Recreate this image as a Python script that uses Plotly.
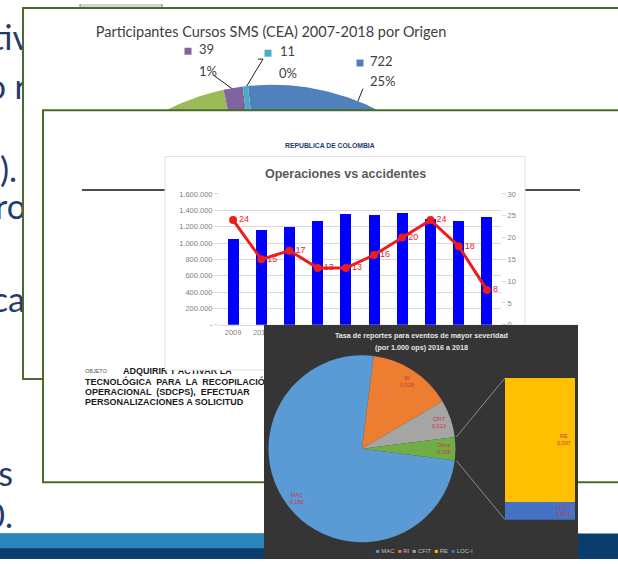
import numpy as np
import plotly.graph_objects as go

W, H = 618, 564

# ---------------- data ----------------
years = ["2009", "2010", "2011", "2012", "2013", "2014", "2015", "2016", "2017", "2018"]
operaciones = [1055000, 1155000, 1190000, 1270000, 1350000, 1345000, 1365000, 1290000, 1265000, 1315000]
accidentes = [24, 15, 17, 13, 13, 16, 20, 24, 18, 8]
ops_ticks = [0, 200000, 400000, 600000, 800000, 1000000, 1200000, 1400000, 1600000]
acc_ticks = [0, 5, 10, 15, 20, 25, 30]

sms_values = [722, 1046, 1070, 39, 11]
sms_colors = ["#4F81BD", "#C0504D", "#9BBB59", "#8064A2", "#4BACC6"]

sev_labels = ["MAC", "RI", "CFIT", "Otros"]
sev_values = [0.150, 0.029, 0.013, 0.008]
sev_colors = ["#5B9BD5", "#ED7D31", "#A5A5A5", "#70AD47"]

otros_labels = ["LOC-I", "RE"]
otros_values = [0.001, 0.007]
otros_colors = ["#4472C4", "#FFC000"]

legend_labels = ["MAC", "RI", "CFIT", "RE", "LOC-I"]
legend_colors = ["#5B9BD5", "#ED7D31", "#A5A5A5", "#FFC000", "#4472C4"]

slide_words = ["activ", "do r", "DC).", "ro", "ca", "s", "0."]
objeto_lines = ["ADQUIRIR Y ACTIVAR LA", "TECNOLÓGICA  PARA  LA  RECOPILACIÓN",
                "OPERACIONAL  (SDCPS),  EFECTUAR", "PERSONALIZACIONES A SOLICITUD"]


def es(v, d=3):
    return f"{v:.{d}f}".replace(".", ",")


def thousands(v):
    return "-" if v == 0 else f"{v:,.0f}".replace(",", ".")


fig = go.Figure()
shapes = []
annots = []


def pix_axes(n, bx0=0, by0=0, bx1=W, by1=H):
    """A hidden subplot whose data units are screen pixels, clipped to a box."""
    xs = "xaxis" if n == 1 else f"xaxis{n}"
    ys = "yaxis" if n == 1 else f"yaxis{n}"
    xr = "x" if n == 1 else f"x{n}"
    yr = "y" if n == 1 else f"y{n}"
    fig.layout[xs] = dict(domain=[bx0 / W, bx1 / W], range=[bx0, bx1], visible=False, anchor=yr,
                          fixedrange=True)
    fig.layout[ys] = dict(domain=[1 - by1 / H, 1 - by0 / H], range=[by1, by0], visible=False, anchor=xr,
                          fixedrange=True)
    fig.add_trace(go.Scatter(x=[bx0], y=[by0], mode="markers", marker=dict(opacity=0),
                             xaxis=xr, yaxis=yr, hoverinfo="skip", showlegend=False))
    return xr, yr


def rect(xr, yr, x0, y0, x1, y1, fill, line=None, lw=0):
    shapes.append(dict(type="rect", xref=xr, yref=yr, x0=x0, y0=y0, x1=x1, y1=y1,
                       fillcolor=fill, line=dict(color=line or fill, width=lw), layer="below"))


def seg(xr, yr, x0, y0, x1, y1, color, lw=1):
    shapes.append(dict(type="line", xref=xr, yref=yr, x0=x0, y0=y0, x1=x1, y1=y1,
                       line=dict(color=color, width=lw), layer="below"))


# ---------- layer A: slide background ----------
xa, ya = pix_axes(1)
rect(xa, ya, 0, 538, W, H, "#0b3c6e")
rect(xa, ya, 0, 538, 300, 553, "#2a86bb")
rect(xa, ya, 80, -2, 162, 4, "#d6d6d6", "#7f7f7f", 1)
slide_x = [30, 27, 17, 26, 25, 13, 13]
slide_y = [38, 88, 172, 210, 304, 481, 524]
fig.add_trace(go.Scatter(x=slide_x, y=slide_y, mode="text", text=slide_words, textposition="middle left",
                         textfont=dict(family="Lato", size=34, color="#1f3b70"),
                         xaxis=xa, yaxis=ya, hoverinfo="skip", showlegend=False))

# ---------- layer B: window 1 (top pie) ----------
xb, yb = pix_axes(2, 21, 2, W, 383)
rect(xb, yb, 23, 4, 700, 381, "white", "#4b6b2e", 2)
cx, cy, rr = 272, 311, 229
tot = sum(sms_values)
ang = -6.0
for v, c in zip(sms_values, sms_colors):
    span = v / tot * 360
    th = np.radians(np.linspace(ang, ang + span, max(int(span * 3), 4)))
    px = [cx] + list(cx + rr * np.sin(th)) + [cx]
    py = [cy] + list(cy - rr * np.cos(th)) + [cy]
    fig.add_trace(go.Scatter(x=px, y=py, mode="lines", fill="toself", fillcolor=c,
                             line=dict(width=0, color=c), xaxis=xb, yaxis=yb,
                             hoverinfo="skip", showlegend=False))
    ang += span
seg(xb, yb, 213, 72, 236, 89, "#202020", 1)
seg(xb, yb, 258, 56, 263, 56, "#202020", 1)
seg(xb, yb, 263, 56, 244, 88, "#202020", 1)
seg(xb, yb, 363, 86, 357, 101, "#202020", 1)
lab_idx = [3, 4, 0]
sq_x = [188, 268, 360]
sq_y = [48, 50, 60]
fig.add_trace(go.Scatter(x=sq_x, y=sq_y, mode="markers",
                         marker=dict(symbol="square", size=7, color=[sms_colors[i] for i in lab_idx]),
                         xaxis=xb, yaxis=yb, hoverinfo="skip", showlegend=False))
val_x = [199, 280, 370]
pct_x = [199, 279, 370]
pct_y = [70, 72, 80]
fig.add_trace(go.Scatter(x=val_x, y=sq_y, mode="text", text=[str(sms_values[i]) for i in lab_idx],
                         textposition="middle right", textfont=dict(family="Lato", size=13, color="#404040"),
                         xaxis=xb, yaxis=yb, hoverinfo="skip", showlegend=False))
fig.add_trace(go.Scatter(x=pct_x, y=pct_y, mode="text",
                         text=[f"{round(sms_values[i] / tot * 100)}%" for i in lab_idx],
                         textposition="middle right", textfont=dict(family="Lato", size=13, color="#404040"),
                         xaxis=xb, yaxis=yb, hoverinfo="skip", showlegend=False))
fig.add_trace(go.Scatter(x=[271], y=[30], mode="text",
                         text=["Participantes Cursos SMS (CEA) 2007-2018 por Origen"],
                         textposition="middle center", textfont=dict(family="Lato", size=14.5, color="#404040"),
                         xaxis=xb, yaxis=yb, hoverinfo="skip", showlegend=False))

# ---------- layer C: window 2 ----------
xc, yc = pix_axes(3, 41, 106, W, 488)
rect(xc, yc, 43, 108, 700, 486, "white", "#4b6b2e", 2)
seg(xc, yc, 82, 189, 166, 189, "#4d4d4d", 2)
seg(xc, yc, 525, 189, 580, 189, "#4d4d4d", 2)
fig.add_trace(go.Scatter(x=[85], y=[374], mode="text", text=["OBJETO"], textposition="middle right",
                         textfont=dict(family="Liberation Sans", size=5.5, color="#555555"),
                         xaxis=xc, yaxis=yc, hoverinfo="skip", showlegend=False))
fig.add_trace(go.Scatter(x=[123, 85, 85, 85], y=[374, 385, 395, 405], mode="text",
                         text=[f"<b>{t}</b>" for t in objeto_lines], textposition="middle right",
                         textfont=dict(family="Liberation Sans", size=9, color="#1a1a1a"),
                         xaxis=xc, yaxis=yc, hoverinfo="skip", showlegend=False))

# ---------- layer C2: chart box ----------
xd, yd = pix_axes(4, 164, 154, 526, 373)
rect(xd, yd, 165, 155, 525, 372, "white", "#e2e2e2", 1)

# ---------- bar + line chart ----------
fig.add_trace(go.Bar(x=years, y=operaciones, marker=dict(color="#0000FF", line=dict(width=0)),
                     width=0.39, xaxis="x5", yaxis="y5", hoverinfo="skip", showlegend=False))
fig.add_trace(go.Scatter(x=years, y=accidentes, mode="lines+markers+text",
                         text=[str(v) for v in accidentes], textposition="middle right",
                         textfont=dict(family="Liberation Sans", size=9, color="#EE1C1C"),
                         line=dict(color="#EE1C1C", width=3), marker=dict(size=8, color="#EE1C1C"),
                         xaxis="x5", yaxis="y6", hoverinfo="skip", showlegend=False))
tick_font = dict(family="Liberation Sans", size=7.5, color="#7f7f7f")
fig.layout["xaxis5"] = dict(domain=[219 / W, 501 / W], anchor="y5", type="category", range=[-0.5, 9.5],
                            showline=True, linecolor="#d9d9d9", linewidth=1, ticks="", showgrid=False,
                            tickfont=tick_font, fixedrange=True)
fig.layout["yaxis5"] = dict(domain=[1 - 326 / H, 1 - 193 / H], anchor="x5", range=[0, 1600000],
                            tickvals=ops_ticks, ticktext=[thousands(v) for v in ops_ticks],
                            showgrid=True, gridcolor="#d9d9d9", gridwidth=1, zeroline=False,
                            ticks="outside", ticklen=4, tickcolor="#d9d9d9", tickfont=tick_font,
                            fixedrange=True)
fig.layout["yaxis6"] = dict(overlaying="y5", side="right", anchor="x5", range=[0, 30],
                            tickvals=acc_ticks, showgrid=False, zeroline=False,
                            ticks="outside", ticklen=4, tickcolor="#d9d9d9", tickfont=tick_font,
                            fixedrange=True)
annots.append(dict(x=330, y=144, xref=xc, yref=yc, text="<b>REPUBLICA DE COLOMBIA</b>", showarrow=False,
                   font=dict(family="Liberation Sans", size=6.8, color="#1f3a6e")))
annots.append(dict(x=345, y=173, xref=xc, yref=yc, text="<b>Operaciones vs accidentes</b>", showarrow=False,
                   font=dict(family="Liberation Sans", size=12.5, color="#595959")))

# ---------- layer D: dark chart ----------
xg, yg = pix_axes(7, 264, 326, 578, H)
rect(xg, yg, 264, 326, 578, 570, "#353535")
pcx, pcy, pr = 362, 452, 95
stot = sum(sev_values)
spans = [v / stot * 360 for v in sev_values]
rot = 90 + spans[-1] / 2
# connectors from the "Otros" slice edges to the secondary bar
bx0, by0, by1 = 505, 380, 524
for a_deg, ty in [(rot - spans[-1], by0), (rot, by1)]:
    a_r = np.radians(a_deg)
    seg(xg, yg, pcx + pr * np.sin(a_r), pcy - pr * np.cos(a_r), bx0, ty, "#8c8c8c", 1)

fig.add_trace(go.Pie(labels=sev_labels, values=sev_values, sort=False, direction="clockwise",
                     rotation=rot, textinfo="none", hoverinfo="skip", showlegend=False,
                     marker=dict(colors=sev_colors, line=dict(width=0)),
                     domain=dict(x=[(pcx - pr) / W, (pcx + pr) / W], y=[1 - (pcy + pr) / H, 1 - (pcy - pr) / H])))
a = rot
for lab, v, sp in zip(sev_labels, sev_values, spans):
    mid = np.radians(a + sp / 2)
    annots.append(dict(x=pcx + 0.86 * pr * np.sin(mid), y=pcy - 0.86 * pr * np.cos(mid), xref=xg, yref=yg,
                       text=f"{lab}<br>{es(v)}", showarrow=False,
                       font=dict(family="Liberation Sans", size=5.5, color="#d0343c")))
    a += sp

for lab, v, c in zip(otros_labels, otros_values, otros_colors):
    fig.add_trace(go.Bar(x=[0], y=[v], width=1, marker=dict(color=c, line=dict(width=0)),
                         xaxis="x8", yaxis="y8", hoverinfo="skip", showlegend=False))
fig.layout["xaxis8"] = dict(domain=[505 / W, 575 / W], anchor="y8", range=[-0.5, 0.5], visible=False,
                            fixedrange=True)
fig.layout["yaxis8"] = dict(domain=[1 - 524 / H, 1 - 380 / H], anchor="x8", range=[0, sum(otros_values)],
                            visible=False, fixedrange=True)
base = 0
for lab, v in zip(otros_labels, otros_values):
    annots.append(dict(x=0.5, y=base + v / 2, xref="x8", yref="y8", xanchor="right", xshift=-2,
                       text=f"{lab}<br>{es(v)}", showarrow=False,
                       font=dict(family="Liberation Sans", size=5.5, color="#d0343c")))
    base += v

annots.append(dict(x=421, y=337, xref=xg, yref=yg, showarrow=False,
                   text="<b>Tasa de reportes para eventos de mayor severidad</b>",
                   font=dict(family="Liberation Sans", size=7.2, color="#e6e6e6")))
annots.append(dict(x=421, y=349, xref=xg, yref=yg, showarrow=False,
                   text="<b>(por 1.000 ops) 2016 a 2018</b>",
                   font=dict(family="Liberation Sans", size=7.2, color="#e6e6e6")))
leg = "  ".join(f"<span style='color:{c}'>■</span> {l}" for l, c in zip(legend_labels, legend_colors))
annots.append(dict(x=424, y=556, xref=xg, yref=yg, showarrow=False, text=leg,
                   font=dict(family="Liberation Sans", size=6, color="#bfbfbf")))

fig.update_layout(width=W, height=H, autosize=False, margin=dict(l=0, r=0, t=0, b=0, pad=0),
                  paper_bgcolor="white", plot_bgcolor="rgba(0,0,0,0)", showlegend=False,
                  barmode="stack", hovermode=False, shapes=shapes, annotations=annots)
fig.write_html("out.html", config={"displayModeBar": False, "staticPlot": True},
               post_script="document.body.style.margin='0px';")
